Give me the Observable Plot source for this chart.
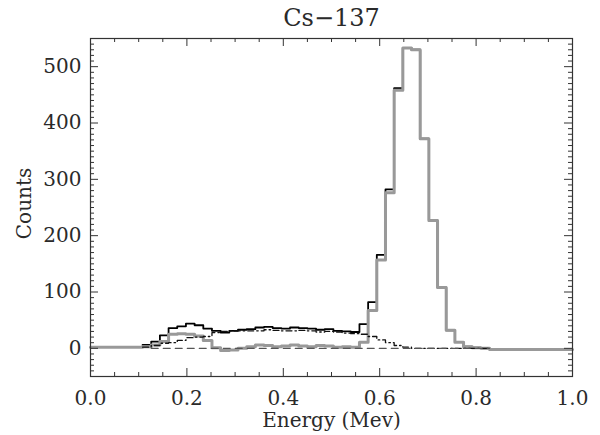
<!DOCTYPE html>
<html><head><meta charset="utf-8">
<script src="https://cdn.jsdelivr.net/npm/d3@7"></script>
<script src="https://cdn.jsdelivr.net/npm/@observablehq/plot@0.6"></script>
<style>body{margin:0;background:#fff}svg{display:block}</style>
</head><body><div id="chart"></div>
<script>
const title = "Cs\u2212137";
const xLabel = "Energy (Mev)";
const yLabel = "Counts";
const xTicks = [0, 0.2, 0.4, 0.6, 0.8, 1.0];
const yTicks = [0, 100, 200, 300, 400, 500];

// histogram bin left edges (MeV)
const binEdges = [0.108,0.126,0.144,0.162,0.180,0.198,0.216,0.234,0.252,0.270,
  0.288,0.306,0.324,0.342,0.360,0.378,0.396,0.414,0.432,0.450,
  0.468,0.486,0.504,0.522,0.540,0.558,0.576,0.594,0.612,0.630,
  0.648,0.666,0.684,0.702,0.720,0.738,0.756,0.774,0.792,0.810];
// measured total (black)
const totalCounts = [6,12,23,36,39,44,41,35,31,28,
  31,33,34,37,38,36,35,37,36,35,
  33,34,31,30,29,43,82,166,282,462,
  533,530,372,227,108,32,11,3,1,0];
// photopeak component (gray)
const peakCounts = [3,6,12,25,26,25,22,14,1,-4,
  -3,0,3,6,5,3,4,6,4,3,
  5,4,2,3,2,11,67,157,276,458,
  533,530,372,227,108,32,11,3,1,0];
// Compton component (dash-dot)
const comptonCounts = [2,5,9,10,14,19,20,21,28,30,
  31,31,31,31,33,32,31,31,32,31,
  29,30,29,27,26,25,21,15,10,5,
  2,0,0,0,0,0,0,0,0,0];
// baseline outside the histogram range (gray)
const baseEnergy = [0, 0.108];
const baseLeft = [2, 2];
const tailEnergy = [0.810, 0.828, 1.0];
const tailCounts = [0, -2, -2];
// background component (dashed)
const bgEnergy = [0.126, 0.828];
const bgCounts = [0, 0];

const stepData = (xs, ys) => xs.map((x, i) => ({x, y: ys[i]}));
const total = stepData(binEdges.concat([0.828]), totalCounts.concat([0]));
const peak = stepData(baseEnergy, baseLeft)
  .concat(stepData(binEdges, peakCounts))
  .concat(stepData(tailEnergy, tailCounts));
const compton = stepData(binEdges.concat([0.828]), comptonCounts.concat([0]));
const bg = stepData(bgEnergy, bgCounts);

const xDomain = [0, 1], yDomain = [-50, 550];
const W = 600, H = 435, mT = 38, mB = 59, mL = 90, mR = 28;
const xPerPx = (xDomain[1] - xDomain[0]) / (W - mL - mR);
const yPerPx = (yDomain[1] - yDomain[0]) / (H - mT - mB);
const xMinor = d3.range(0, 1.0001, 0.05).filter(v => Math.abs(v*5 - Math.round(v*5)) > 1e-6);
const yMinor = d3.range(-50, 551, 10).filter(v => v % 100 !== 0);

const tickColor = "#333";
const xTickMarks = (vals, len) => [
  Plot.ruleX(vals, {x: d => d, y1: yDomain[0], y2: yDomain[0] + len * yPerPx, stroke: tickColor, strokeWidth: 1}),
  Plot.ruleX(vals, {x: d => d, y1: yDomain[1], y2: yDomain[1] - len * yPerPx, stroke: tickColor, strokeWidth: 1})
];
const yTickMarks = (vals, len) => [
  Plot.ruleY(vals, {y: d => d, x1: xDomain[0], x2: xDomain[0] + len * xPerPx, stroke: tickColor, strokeWidth: 1}),
  Plot.ruleY(vals, {y: d => d, x1: xDomain[1], x2: xDomain[1] - len * xPerPx, stroke: tickColor, strokeWidth: 1})
];

const font = "'DejaVu Serif', serif";
const txt = "#2a2a2a";
const chart = Plot.plot({
  width: W, height: H,
  marginTop: mT, marginBottom: mB, marginLeft: mL, marginRight: mR,
  style: {fontFamily: font, background: "#fff", color: "#000"},
  x: {domain: xDomain, axis: null},
  y: {domain: yDomain, axis: null},
  marks: [
    Plot.line(total, {x: "x", y: "y", curve: "step-after", stroke: "#000", strokeWidth: 1.8}),
    Plot.line(peak, {x: "x", y: "y", curve: "step-after", stroke: "#999", strokeWidth: 3}),
    Plot.line(compton, {x: "x", y: "y", curve: "step-after", stroke: "#111", strokeWidth: 1.3, strokeDasharray: "6,3,1.5,3"}),
    Plot.line(bg, {x: "x", y: "y", stroke: "#555", strokeWidth: 1.2, strokeDasharray: "7,5"}),
    Plot.frame({stroke: "#333", strokeWidth: 1.2}),
    ...xTickMarks(xTicks, 8), ...xTickMarks(xMinor, 4),
    ...yTickMarks(yTicks, 8), ...yTickMarks(yMinor, 4),
    Plot.text(xTicks, {x: d => d, frameAnchor: "bottom", lineAnchor: "top", dy: 14, text: d3.format(".1f"), fontSize: 20, fill: txt}),
    Plot.text(yTicks, {y: d => d, frameAnchor: "left", textAnchor: "end", dx: -9, text: d => String(d), fontSize: 20, fill: txt}),
    Plot.text([xLabel], {frameAnchor: "bottom", lineAnchor: "top", dy: 36, fontSize: 20, fill: txt}),
    Plot.text([yLabel], {frameAnchor: "left", textAnchor: "middle", rotate: -90, dx: -66, dy: -4, fontSize: 20, fill: txt}),
    Plot.text([title], {frameAnchor: "top", lineAnchor: "bottom", dy: -13, fontSize: 24, fill: txt})
  ]
});
document.getElementById("chart").append(chart);
</script>
</body></html>
